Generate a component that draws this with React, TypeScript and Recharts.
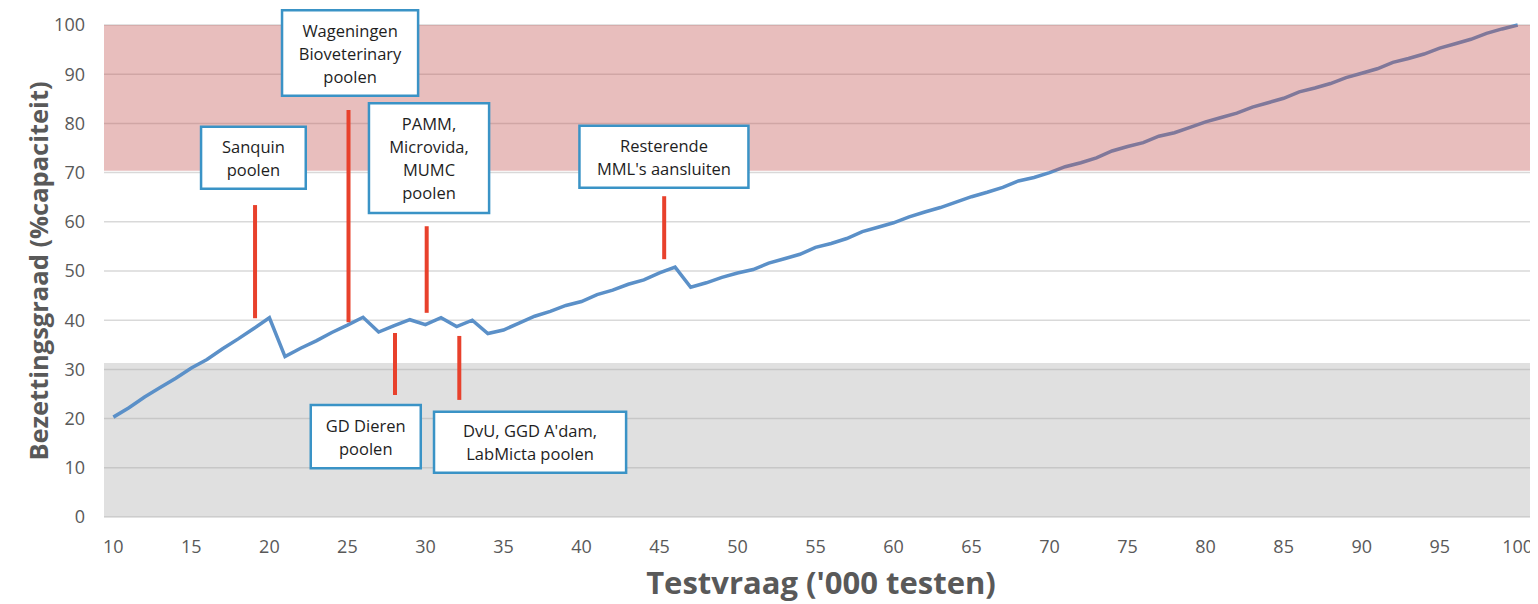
import React from "react";
import {
  LineChart,
  Line,
  XAxis,
  YAxis,
  CartesianGrid,
  ReferenceArea,
  ReferenceLine,
} from "recharts";

// x in '000 tests, y in % capacity
const testDemand = [
  10, 11, 12, 13, 14, 15, 16, 17, 18, 19, 20, 21, 22, 23, 24, 25, 26, 27, 28, 29, 30,
  31, 32, 33, 34, 35, 36, 37, 38, 39, 40, 41, 42, 43, 44, 45, 46, 47, 48, 49, 50,
  51, 52, 53, 54, 55, 56, 57, 58, 59, 60, 61, 62, 63, 64, 65, 66, 67, 68, 69, 70,
  71, 72, 73, 74, 75, 76, 77, 78, 79, 80, 81, 82, 83, 84, 85, 86, 87, 88, 89, 90,
  91, 92, 93, 94, 95, 96, 97, 98, 99, 100,
];
const occupancy = [
  20.3, 22.2, 24.4, 26.3, 28.2, 30.3, 32.0, 34.2, 36.2, 38.3, 40.5, 32.6, 34.3, 35.8, 37.5, 39.0, 40.6, 37.6, 38.9, 40.1, 39.1,
  40.5, 38.7, 40.0, 37.3, 38.0, 39.4, 40.8, 41.8, 43.0, 43.8, 45.2, 46.1, 47.3, 48.2, 49.6, 50.8, 46.7, 47.6, 48.7, 49.6,
  50.3, 51.6, 52.5, 53.4, 54.8, 55.6, 56.6, 58.0, 58.9, 59.8, 61.0, 62.0, 62.9, 64.0, 65.1, 66.0, 67.0, 68.3, 69.0, 70.0,
  71.2, 72.0, 73.0, 74.4, 75.3, 76.1, 77.4, 78.1, 79.2, 80.3, 81.2, 82.1, 83.3, 84.2, 85.1, 86.4, 87.2, 88.1, 89.3, 90.2,
  91.1, 92.4, 93.2, 94.1, 95.3, 96.2, 97.1, 98.3, 99.2, 100.0,
];
const xTicks = [10, 15, 20, 25, 30, 35, 40, 45, 50, 55, 60, 65, 70, 75, 80, 85, 90, 95, 100];
const yTicks = [0, 10, 20, 30, 40, 50, 60, 70, 80, 90, 100];

// zones (y ranges)
const lowZone = [0, 31.3];
const highZone = [70.4, 100];

// event markers: x, y from, y to
const markerX = [19.08, 25.07, 28.05, 30.08, 32.17, 45.3];
const markerYFrom = [40.4, 39.6, 24.8, 41.5, 23.8, 52.4];
const markerYTo = [63.4, 82.7, 37.4, 59.1, 36.8, 65.2];

// annotation boxes (data coords) and their texts
const boxText = [
  ["Sanquin", "poolen"],
  ["Wageningen", "Bioveterinary", "poolen"],
  ["PAMM,", "Microvida,", "MUMC", "poolen"],
  ["Resterende", "MML's aansluiten"],
  ["GD Dieren", "poolen"],
  ["DvU, GGD A'dam,", "LabMicta poolen"],
];
const boxX1 = [15.62, 20.81, 26.38, 39.87, 22.65, 30.55];
const boxX2 = [22.33, 29.53, 34.08, 50.7, 29.7, 42.86];
const boxY1 = [66.7, 85.6, 61.8, 66.9, 9.9, 9.0];
const boxY2 = [79.3, 103.0, 84.1, 79.5, 22.76, 21.4];

const data = testDemand.map((x, i) => ({ x, y: occupancy[i] }));

const FONT = "'Open Sans', sans-serif";
const TICK_COLOR = "#595959";

const BoxLabel = (lines: string[]) => (props: any) => {
  const vb = props.viewBox || {};
  const cx = vb.x + vb.width / 2;
  const cy = vb.y + vb.height / 2;
  const lh = 23;
  const startY = cy - ((lines.length - 1) * lh) / 2;
  return (
    <text
      x={cx}
      y={startY}
      textAnchor="middle"
      fontFamily={FONT}
      fontSize={16.5}
      fill="#1e1e1e"
    >
      {lines.map((t, i) => (
        <tspan key={i} x={cx} y={startY + i * lh} dominantBaseline="central">
          {t}
        </tspan>
      ))}
    </text>
  );
};

const YTitle = (props: any) => {
  const vb = props.viewBox || {};
  const cx = 30;
  const cy = vb.y + vb.height / 2;
  return (
    <text
      x={cx}
      y={cy}
      transform={`rotate(-90, ${cx}, ${cy})`}
      textAnchor="middle"
      dominantBaseline="central"
      fontFamily={FONT}
      fontWeight={700}
      fontSize={25.5}
      fill={TICK_COLOR}
    >
      Bezettingsgraad (%capaciteit)
    </text>
  );
};

const XTitle = (props: any) => {
  const vb = props.viewBox || {};
  const cx = vb.x + vb.width / 2;
  return (
    <text
      x={cx}
      y={574}
      textAnchor="middle"
      dominantBaseline="central"
      fontFamily={FONT}
      fontWeight={700}
      fontSize={31}
      fill={TICK_COLOR}
    >
      Testvraag ('000 testen)
    </text>
  );
};

export default function App() {
  return (
    <div style={{ width: 1530, height: 596, background: "#fff" }}>
      <LineChart
        width={1530}
        height={596}
        data={data}
        margin={{ top: 17, right: 0, bottom: 0, left: 0 }}
      >
        <CartesianGrid vertical={false} stroke="#d9d9d9" strokeWidth={1.5} />
        <XAxis
          dataKey="x"
          type="number"
          domain={[9.4, 101.3]}
          allowDataOverflow
          ticks={xTicks}
          height={87}
          axisLine={false}
          tickLine={false}
          tickSize={0}
          tickMargin={23}
          tick={{ fill: TICK_COLOR, fontSize: 18, fontFamily: FONT }}
          label={<XTitle />}
        />
        <YAxis
          type="number"
          domain={[0, 100]}
          ticks={yTicks}
          width={96}
          axisLine={false}
          tickLine={false}
          tickSize={0}
          tickMargin={19}
          tick={{ fill: TICK_COLOR, fontSize: 18, fontFamily: FONT }}
          label={<YTitle />}
        />
        <ReferenceArea
          y1={lowZone[0]}
          y2={lowZone[1]}
          fill="#a6a6a6"
          fillOpacity={0.35}
          stroke="none"
          ifOverflow="visible"
          zIndex={100}
        />
        <Line
          dataKey="y"
          type="linear"
          stroke="#5b90c8"
          strokeWidth={3.5}
          dot={false}
          activeDot={false}
          isAnimationActive={false}
          zIndex={400}
        />
        <ReferenceArea
          y1={highZone[0]}
          y2={highZone[1]}
          fill="#c0504d"
          fillOpacity={0.37}
          stroke="none"
          ifOverflow="visible"
          zIndex={450}
        />
        {markerX.map((x, i) => (
          <ReferenceLine
            key={"m" + i}
            segment={[
              { x, y: markerYFrom[i] },
              { x, y: markerYTo[i] },
            ]}
            stroke="#e8412c"
            strokeWidth={4}
            ifOverflow="visible"
            zIndex={500}
          />
        ))}
        {boxText.map((lines, i) => (
          <ReferenceArea
            key={"b" + i}
            x1={boxX1[i]}
            x2={boxX2[i]}
            y1={boxY1[i]}
            y2={boxY2[i]}
            fill="#ffffff"
            fillOpacity={1}
            stroke="#3a93c6"
            strokeWidth={2.5}
            ifOverflow="visible"
            zIndex={600}
            label={BoxLabel(lines)}
          />
        ))}
      </LineChart>
    </div>
  );
}
